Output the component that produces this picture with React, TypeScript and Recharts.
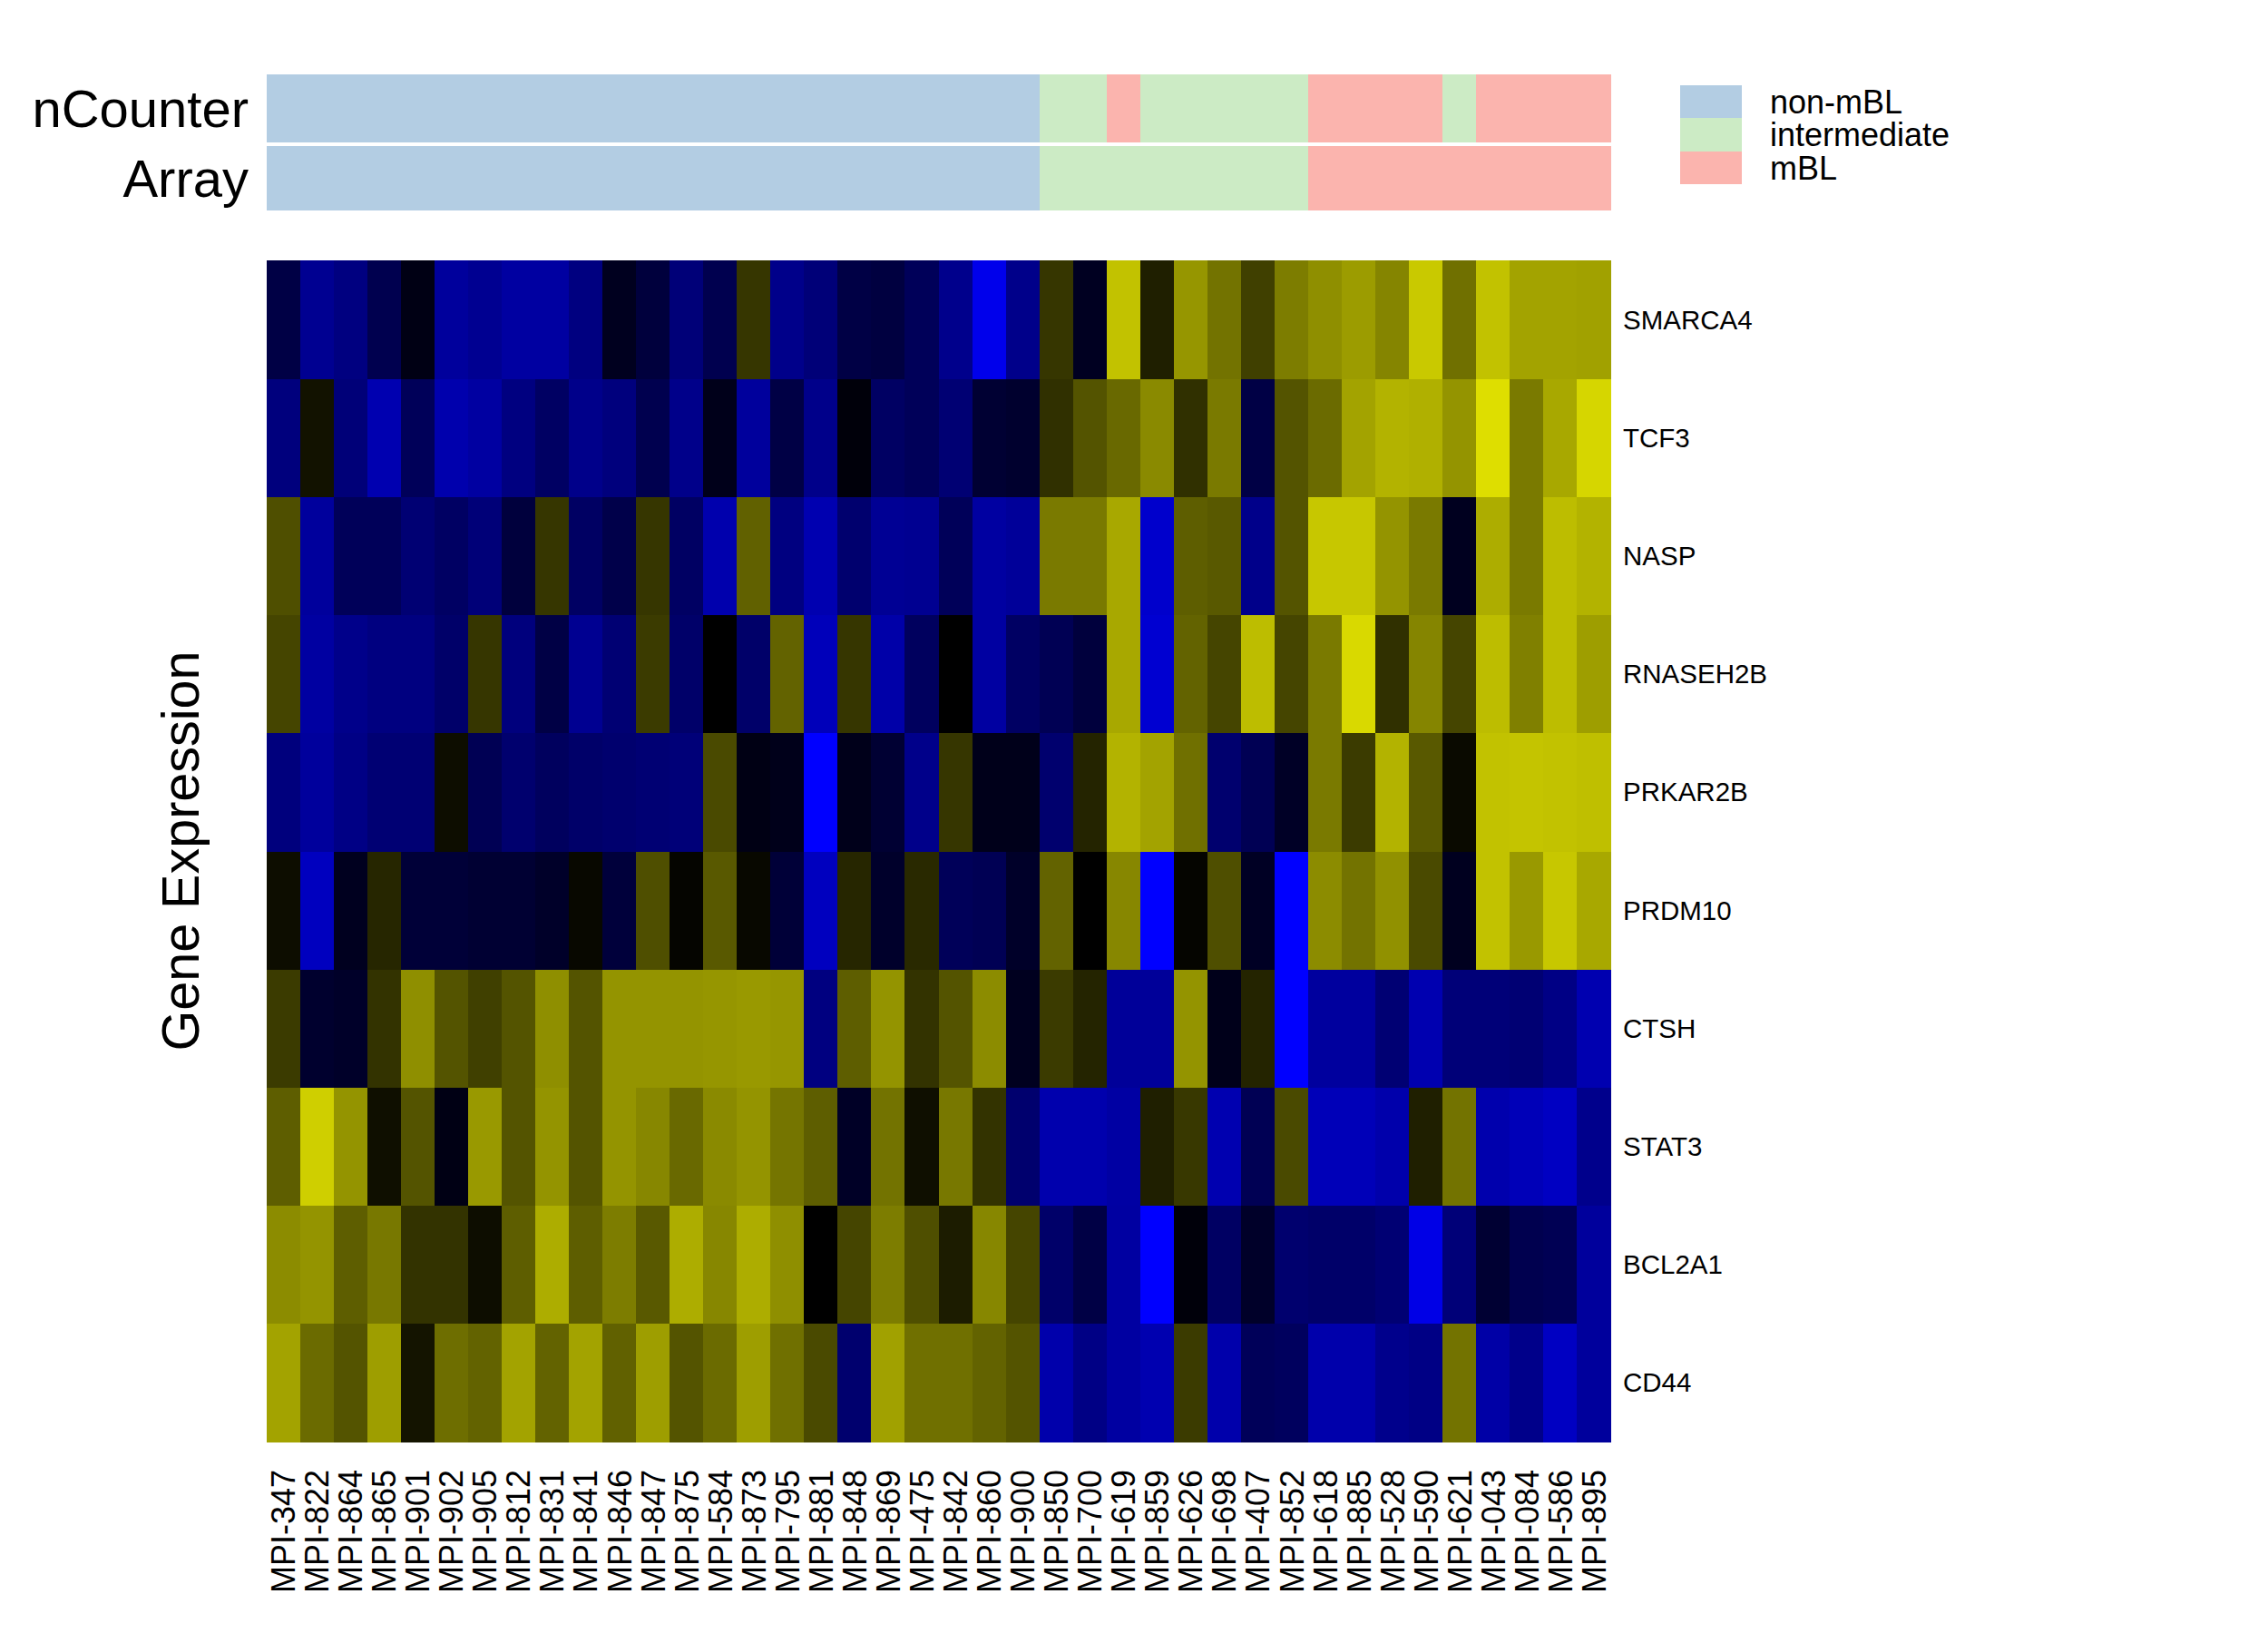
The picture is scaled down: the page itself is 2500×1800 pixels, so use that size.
import { BarChart, Bar, Cell, XAxis, YAxis } from 'recharts';

const samples = [
  'MPI-347', 'MPI-822', 'MPI-864', 'MPI-865', 'MPI-901', 'MPI-902', 'MPI-905', 'MPI-812', 'MPI-831', 'MPI-841',
  'MPI-846', 'MPI-847', 'MPI-875', 'MPI-584', 'MPI-873', 'MPI-795', 'MPI-881', 'MPI-848', 'MPI-869', 'MPI-475',
  'MPI-842', 'MPI-860', 'MPI-900', 'MPI-850', 'MPI-700', 'MPI-619', 'MPI-859', 'MPI-626', 'MPI-698', 'MPI-407',
  'MPI-852', 'MPI-618', 'MPI-885', 'MPI-528', 'MPI-590', 'MPI-621', 'MPI-043', 'MPI-084', 'MPI-586', 'MPI-895',
];

// expression, -1 = full blue, 0 = black, 1 = full yellow
const smarca4 = [-0.27, -0.57, -0.5, -0.31, -0.08, -0.61, -0.57, -0.63, -0.63, -0.5, -0.12, -0.24, -0.47, -0.31, 0.21, -0.54, -0.47, -0.27, -0.25, -0.35, -0.55, -0.92, -0.54, 0.21, -0.13, 0.76, 0.12, 0.59, 0.45, 0.25, 0.49, 0.56, 0.61, 0.52, 0.79, 0.44, 0.76, 0.64, 0.64, 0.63];
const tcf3 = [-0.49, 0.07, -0.47, -0.69, -0.35, -0.68, -0.63, -0.5, -0.39, -0.54, -0.49, -0.31, -0.54, -0.1, -0.61, -0.27, -0.54, -0.04, -0.39, -0.35, -0.45, -0.2, -0.18, 0.19, 0.33, 0.41, 0.54, 0.19, 0.48, -0.27, 0.33, 0.42, 0.64, 0.7, 0.69, 0.58, 0.87, 0.48, 0.66, 0.84];
const nasp = [0.31, -0.61, -0.35, -0.35, -0.45, -0.39, -0.47, -0.24, 0.21, -0.39, -0.29, 0.21, -0.39, -0.68, 0.38, -0.5, -0.69, -0.43, -0.58, -0.57, -0.35, -0.63, -0.6, 0.48, 0.48, 0.66, -0.8, 0.37, 0.35, -0.54, 0.33, 0.78, 0.78, 0.58, 0.48, -0.12, 0.68, 0.48, 0.74, 0.7];
const rnaseh2b = [0.27, -0.63, -0.54, -0.5, -0.5, -0.41, 0.21, -0.49, -0.27, -0.57, -0.45, 0.23, -0.41, 0, -0.41, 0.39, -0.73, 0.21, -0.66, -0.37, 0, -0.63, -0.39, -0.33, -0.24, 0.66, -0.82, 0.39, 0.27, 0.74, 0.27, 0.48, 0.85, 0.19, 0.52, 0.27, 0.74, 0.5, 0.74, 0.62];
const prkar2b = [-0.49, -0.61, -0.52, -0.45, -0.45, 0.05, -0.33, -0.43, -0.37, -0.41, -0.43, -0.45, -0.47, 0.29, -0.08, -0.1, -1, -0.1, -0.2, -0.54, 0.21, -0.1, -0.1, -0.43, 0.14, 0.7, 0.64, 0.44, -0.43, -0.33, -0.15, 0.48, 0.23, 0.7, 0.35, 0.04, 0.76, 0.77, 0.76, 0.75];
const prdm10 = [0.05, -0.75, -0.12, 0.15, -0.22, -0.22, -0.2, -0.2, -0.16, 0.03, -0.23, 0.31, 0.02, 0.35, 0.03, -0.22, -0.75, 0.15, -0.17, 0.16, -0.35, -0.33, -0.16, 0.39, 0, 0.53, -1, 0.02, 0.31, -0.14, -1, 0.55, 0.45, 0.57, 0.29, -0.12, 0.76, 0.6, 0.78, 0.66];
const ctsh = [0.23, -0.18, -0.16, 0.2, 0.56, 0.33, 0.25, 0.33, 0.56, 0.33, 0.58, 0.58, 0.58, 0.59, 0.6, 0.59, -0.5, 0.37, 0.58, 0.2, 0.33, 0.55, -0.12, 0.23, 0.14, -0.6, -0.6, 0.58, -0.1, 0.14, -1, -0.62, -0.62, -0.45, -0.69, -0.47, -0.47, -0.45, -0.52, -0.69];
const stat3 = [0.37, 0.81, 0.58, 0.06, 0.33, -0.08, 0.6, 0.33, 0.58, 0.33, 0.58, 0.53, 0.41, 0.54, 0.58, 0.46, 0.37, -0.15, 0.45, 0.06, 0.47, 0.2, -0.43, -0.68, -0.68, -0.64, 0.12, 0.22, -0.69, -0.33, 0.29, -0.72, -0.72, -0.67, 0.12, 0.45, -0.68, -0.72, -0.76, -0.55];
const bcl2a1 = [0.55, 0.58, 0.37, 0.47, 0.2, 0.2, 0.05, 0.37, 0.68, 0.37, 0.49, 0.35, 0.68, 0.53, 0.68, 0.56, 0, 0.27, 0.49, 0.31, 0.11, 0.53, 0.27, -0.41, -0.27, -0.63, -1, -0.04, -0.39, -0.16, -0.43, -0.41, -0.41, -0.45, -0.9, -0.47, -0.2, -0.31, -0.33, -0.61];
const cd44 = [0.64, 0.42, 0.33, 0.62, 0.08, 0.43, 0.39, 0.64, 0.39, 0.64, 0.38, 0.62, 0.33, 0.42, 0.62, 0.44, 0.29, -0.43, 0.63, 0.44, 0.44, 0.39, 0.33, -0.67, -0.52, -0.63, -0.69, 0.23, -0.67, -0.35, -0.37, -0.67, -0.67, -0.55, -0.52, 0.45, -0.65, -0.54, -0.76, -0.61];

const genes = ['SMARCA4', 'TCF3', 'NASP', 'RNASEH2B', 'PRKAR2B', 'PRDM10', 'CTSH', 'STAT3', 'BCL2A1', 'CD44'];
const geneValues = [smarca4, tcf3, nasp, rnaseh2b, prkar2b, prdm10, ctsh, stat3, bcl2a1, cd44];

const classNames = ['non-mBL', 'intermediate', 'mBL'];
const nCounterClass = [0, 0, 0, 0, 0, 0, 0, 0, 0, 0, 0, 0, 0, 0, 0, 0, 0, 0, 0, 0, 0, 0, 0, 1, 1, 2, 1, 1, 1, 1, 1, 2, 2, 2, 2, 1, 2, 2, 2, 2];
const arrayClass = [0, 0, 0, 0, 0, 0, 0, 0, 0, 0, 0, 0, 0, 0, 0, 0, 0, 0, 0, 0, 0, 0, 0, 1, 1, 1, 1, 1, 1, 1, 1, 2, 2, 2, 2, 2, 2, 2, 2, 2];

const CLASS_COLORS = ['#B3CDE3', '#CCEBC5', '#FBB4AE'];
const FONT = '"Liberation Sans", Arial, sans-serif';

const PLOT_LEFT = 294;
const PLOT_RIGHT = 1776;

function shade(v: number) {
  const c = Math.round(Math.abs(v) * 255);
  return v >= 0 ? `rgb(${c},${c},0)` : `rgb(0,0,${c})`;
}

// every cell is one unit tall, the stack goes bottom up so the first gene lands on top
const heatTable = samples.map((sample) => {
  const row: Record<string, string | number> = { sample };
  genes.forEach((g) => {
    row[g] = 1;
  });
  return row;
});
const stackOrder = genes.map((_, i) => genes.length - 1 - i);
const geneTicks = genes.map((_, i) => i + 0.5);

function SampleTick({ x, y, payload }: any) {
  return (
    <text
      transform={`translate(${x}, ${y}) rotate(-90)`}
      textAnchor="end"
      dominantBaseline="central"
      fontSize={36}
      fontFamily={FONT}
      fill="#000"
    >
      {payload.value}
    </text>
  );
}

function ClassStrip({ name, classes, top, height }: { name: string; classes: number[]; top: number; height: number }) {
  const table = samples.map((sample) => ({ sample, cell: 1 }));
  return (
    <div style={{ position: 'absolute', left: 0, top }}>
      <BarChart
        width={PLOT_RIGHT}
        height={height}
        data={table}
        barCategoryGap={0}
        margin={{ top: 0, right: 0, bottom: 0, left: 0 }}
      >
        <XAxis dataKey="sample" hide />
        <YAxis
          type="number"
          domain={[0, 1]}
          ticks={[0.5]}
          width={PLOT_LEFT}
          axisLine={false}
          tickLine={false}
          tickMargin={14}
          tickFormatter={() => name}
          tick={{ fontSize: 58, fontFamily: FONT, fill: '#000' }}
        />
        <Bar dataKey="cell" isAnimationActive={false} shapeRendering="crispEdges">
          {classes.map((c, i) => (
            <Cell key={`cell-${i}`} fill={CLASS_COLORS[c]} stroke={CLASS_COLORS[c]} strokeWidth={1} />
          ))}
        </Bar>
      </BarChart>
    </div>
  );
}

function ClassLegend() {
  return (
    <div style={{ position: 'absolute', left: 1852, top: 94, fontFamily: FONT, fontSize: 36, color: '#000' }}>
      {classNames.map((label, i) => (
        <div key={label} style={{ display: 'flex', alignItems: 'center', height: 36.3 }}>
          <div style={{ width: 68, height: 36.3, background: CLASS_COLORS[i] }} />
          <span style={{ marginLeft: 31, position: 'relative', top: 1 }}>{label}</span>
        </div>
      ))}
    </div>
  );
}

export default function App() {
  return (
    <div style={{ position: 'absolute', left: 0, top: 0, width: 2500, height: 1800, background: '#fff', overflow: 'hidden' }}>
      <ClassStrip name="nCounter" classes={nCounterClass} top={82} height={75} />
      <ClassStrip name="Array" classes={arrayClass} top={161} height={71} />
      <ClassLegend />
      <div style={{ position: 'absolute', left: 0, top: 0 }}>
        <BarChart
          width={2500}
          height={1800}
          data={heatTable}
          barCategoryGap={0}
          margin={{ top: 287, right: 0, bottom: 0, left: 0 }}
        >
          <XAxis
            dataKey="sample"
            interval={0}
            height={211}
            axisLine={false}
            tickLine={false}
            tickMargin={25}
            tick={<SampleTick />}
          />
          <YAxis
            yAxisId="label"
            orientation="left"
            type="number"
            domain={[0, 1]}
            width={PLOT_LEFT}
            tick={false}
            axisLine={false}
            tickLine={false}
            label={{
              value: 'Gene Expression',
              angle: -90,
              position: 'center',
              dx: 52,
              fontSize: 57.5,
              fontFamily: FONT,
              fill: '#000',
            }}
          />
          <YAxis
            yAxisId="genes"
            orientation="right"
            type="number"
            domain={[0, genes.length]}
            ticks={geneTicks}
            interval={0}
            width={2500 - PLOT_RIGHT}
            axisLine={false}
            tickLine={false}
            tickMargin={7}
            tickFormatter={(v: number) => genes[genes.length - 1 - Math.floor(v)]}
            tick={{ fontSize: 29.5, fontFamily: FONT, fill: '#000' }}
          />
          {stackOrder.map((g) => (
            <Bar
              key={genes[g]}
              yAxisId="genes"
              dataKey={genes[g]}
              stackId="heat"
              isAnimationActive={false}
              shapeRendering="crispEdges"
            >
              {geneValues[g].map((v, i) => (
                <Cell key={`cell-${i}`} fill={shade(v)} stroke={shade(v)} strokeWidth={1} />
              ))}
            </Bar>
          ))}
        </BarChart>
      </div>
    </div>
  );
}
